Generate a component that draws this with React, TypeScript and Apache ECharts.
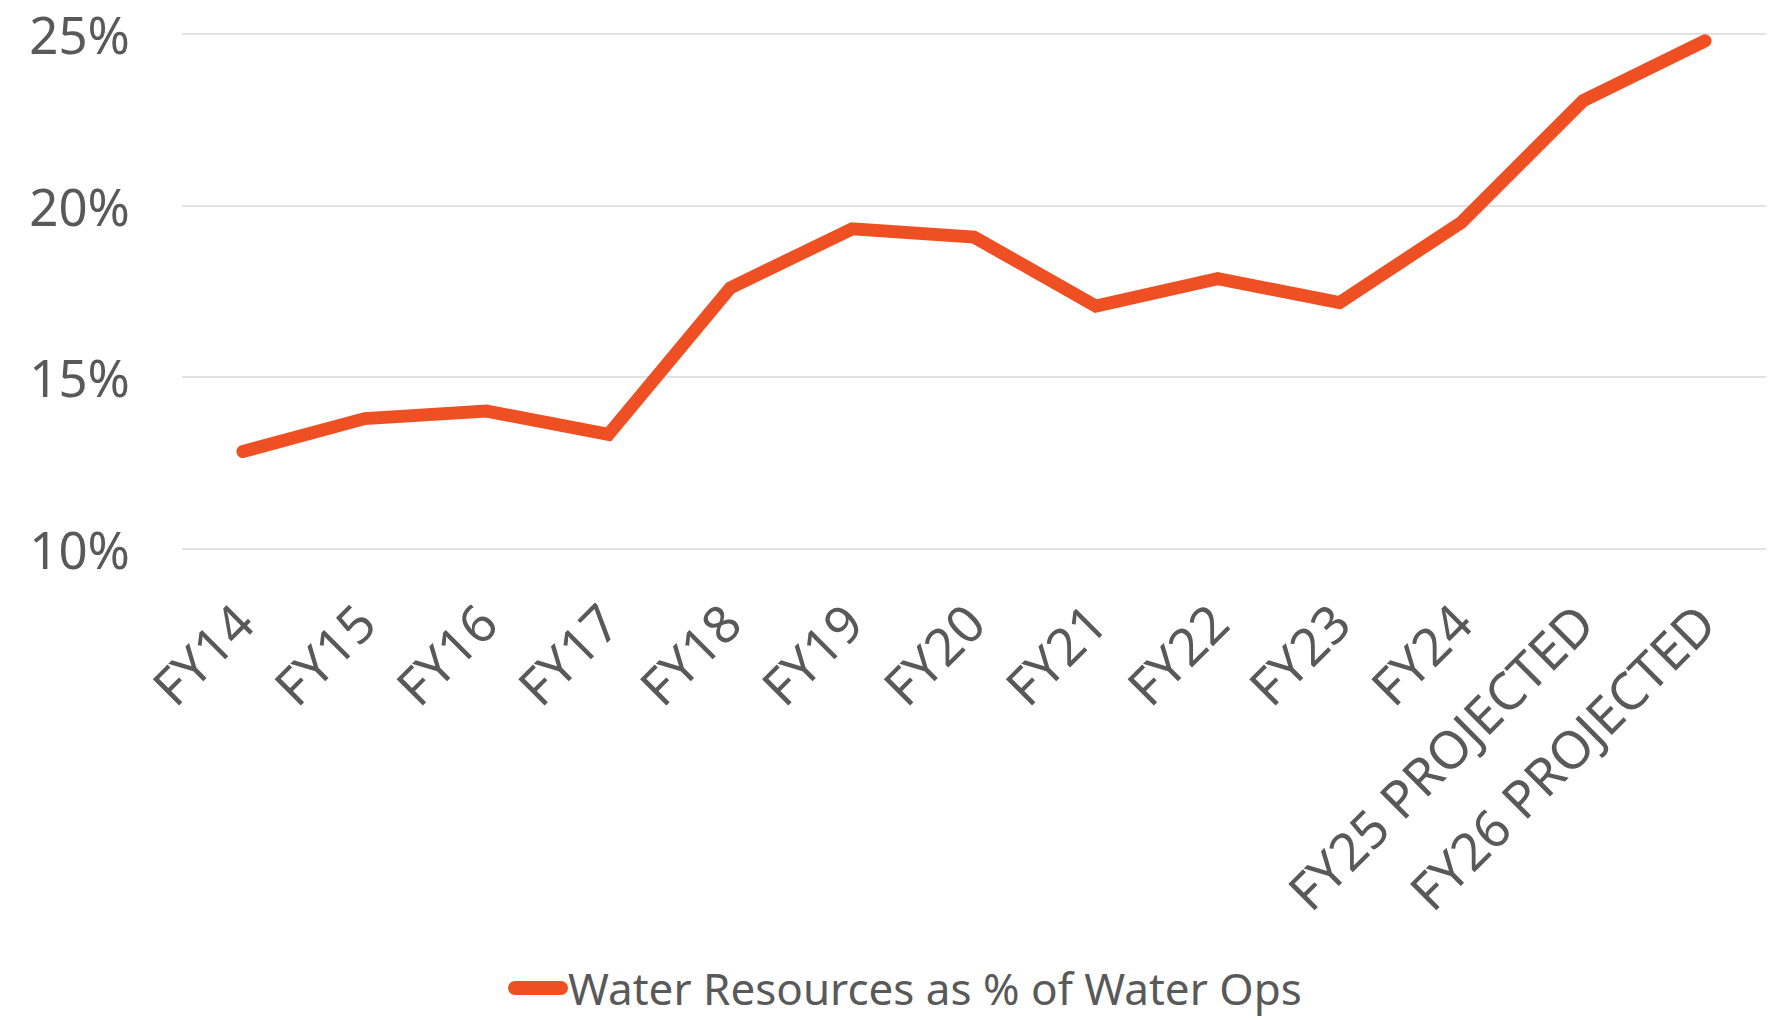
import React, { useEffect, useRef } from "react";
import * as echarts from "echarts";

const categories = [
  "FY14", "FY15", "FY16", "FY17", "FY18", "FY19", "FY20",
  "FY21", "FY22", "FY23", "FY24", "FY25 PROJECTED", "FY26 PROJECTED",
];
const values = [12.83, 13.79, 14.01, 13.33, 17.6, 19.32, 19.08, 17.07, 17.87, 17.17, 19.51, 23.06, 24.8];
const seriesName = "Water Resources as % of Water Ops";
const yMin = 10;
const yMax = 25;
const yInterval = 5;

const FONT = "'Noto Sans', sans-serif";
const TEXT = "#595959";
const LINE = "#EF5023";

export default function App() {
  const ref = useRef<HTMLDivElement>(null);
  useEffect(() => {
    if (!ref.current) return;
    const chart = echarts.init(ref.current, undefined, { renderer: "svg" });
    chart.setOption({
      animation: false,
      backgroundColor: "#ffffff",
      grid: { left: 182, right: 17, top: 34, bottom: 471.4, containLabel: false },
      legend: {
        show: true,
        data: [seriesName],
        left: 503,
        top: 960,
        itemWidth: 60,
        itemHeight: 14,
        icon: "path://M7,0 H53 A7,7 0 0 1 53,14 H7 A7,7 0 0 1 7,0 Z",
        textStyle: { fontFamily: FONT, fontSize: 44, lineHeight: 46, color: TEXT, padding: [0, 0, 0, -5] },
      },
      xAxis: {
        type: "category",
        data: categories,
        boundaryGap: true,
        axisLine: { show: false },
        axisTick: { show: false },
        axisLabel: {
          rotate: 45,
          margin: 64,
          interval: 0,
          fontFamily: FONT,
          fontSize: 52,
          color: TEXT,
        },
      },
      yAxis: {
        type: "value",
        min: yMin,
        max: yMax,
        interval: yInterval,
        axisLine: { show: false },
        axisTick: { show: false },
        axisLabel: {
          margin: 52,
          fontFamily: FONT,
          fontSize: 51,
          lineHeight: 44,
          color: TEXT,
          formatter: (v: number) => `${v}%`,
        },
        splitLine: { lineStyle: { color: "#d9d9d9", width: 1.5 } },
      },
      series: [
        {
          name: seriesName,
          type: "line",
          data: values,
          showSymbol: false,
          symbol: "none",
          itemStyle: { color: LINE },
          lineStyle: { color: LINE, width: 13, cap: "round", join: "miter" },
        },
      ],
    });
    return () => chart.dispose();
  }, []);
  return (
    <div
      ref={ref}
      style={{ position: "absolute", left: 0, top: 0, width: 1783, height: 1020 }}
    />
  );
}
